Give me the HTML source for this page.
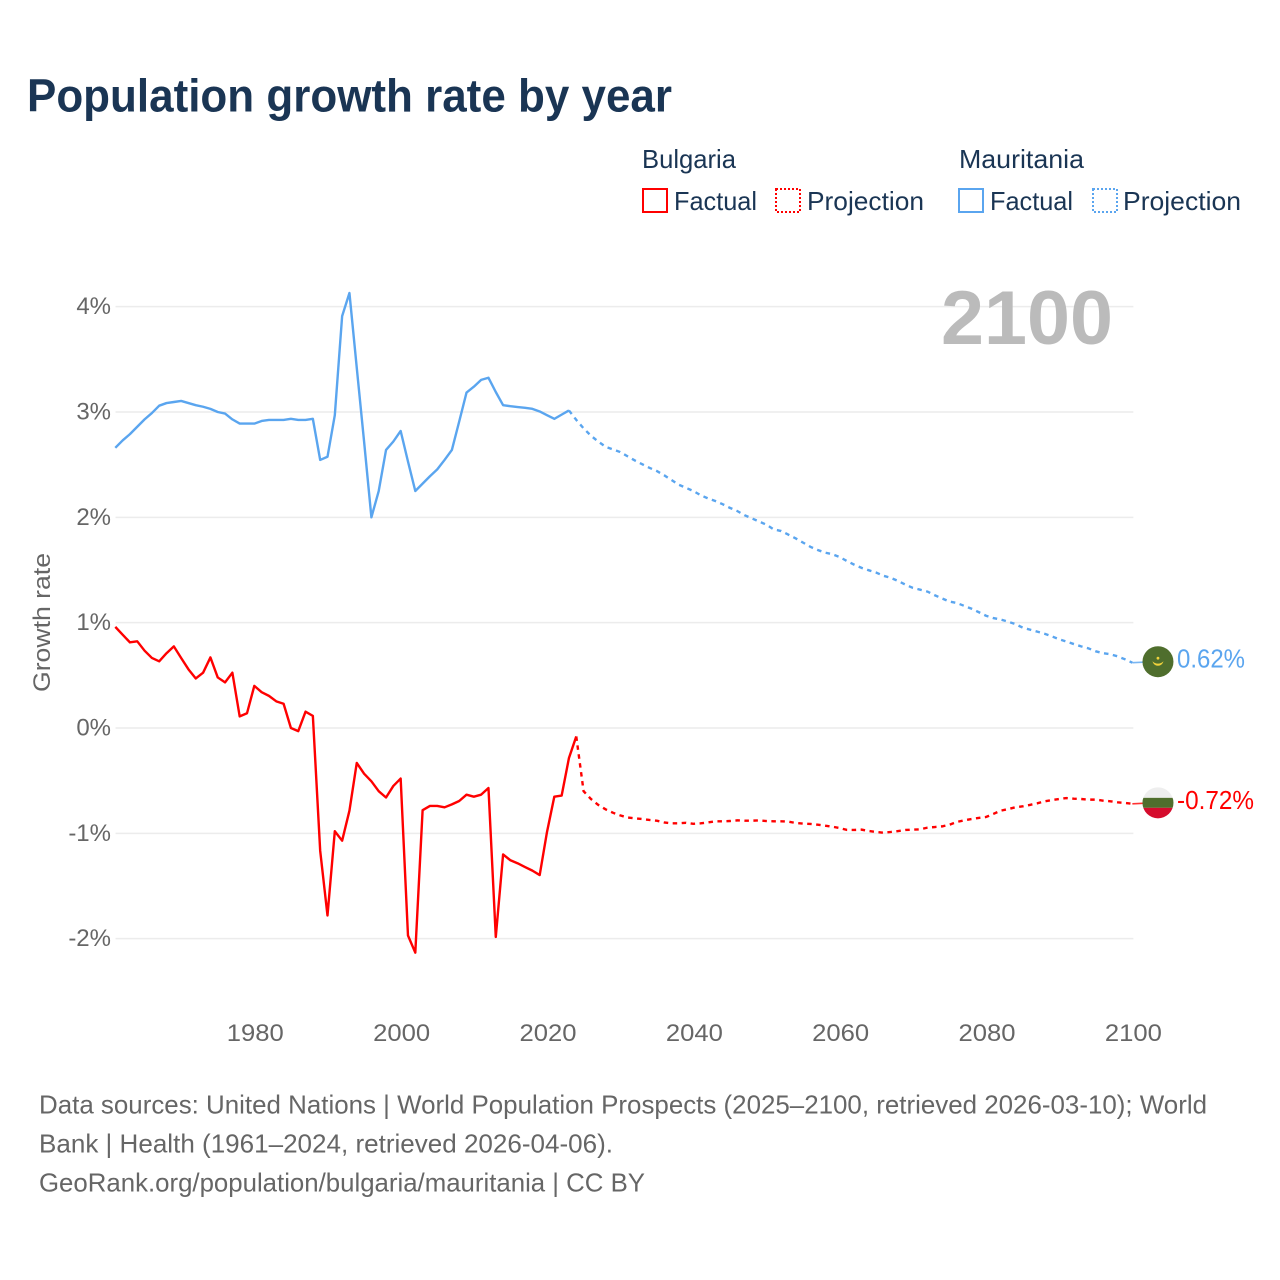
<!DOCTYPE html>
<html lang="en">
<head>
<meta charset="utf-8">
<title>Population growth rate by year</title>
<style>
html,body{margin:0;padding:0;background:#fff;}
svg{display:block;font-family:"Liberation Sans",sans-serif;}
.title{font-size:46px;font-weight:700;fill:#1a3554;}
.legend{font-size:26px;fill:#1a3554;}
.tick{font-size:24px;fill:#666;}
.source{font-size:26px;fill:#666;}
</style>
</head>
<body>
<svg id="chart" xmlns="http://www.w3.org/2000/svg" width="1280" height="1280" viewBox="0 0 1280 1280">
  <defs>
    <clipPath id="flag-clip-b"><circle cx="0" cy="0" r="15.5"></circle></clipPath>
  </defs>
  <rect x="0" y="0" width="1280" height="1280" fill="#fff"></rect>
  <text class="title" x="27" y="111.5" textLength="645" lengthAdjust="spacingAndGlyphs">Population growth rate by year</text>

  <g>
    <text class="legend" x="642" y="168" textLength="94" lengthAdjust="spacingAndGlyphs">Bulgaria</text>
    <rect x="643" y="189" width="24" height="23" fill="none" stroke="#ff0000" stroke-width="2"></rect>
    <text class="legend" x="674" y="210" textLength="83" lengthAdjust="spacingAndGlyphs">Factual</text>
    <rect x="776" y="189" width="24" height="23" fill="none" stroke="#ff0000" stroke-width="2" stroke-dasharray="2 2"></rect>
    <text class="legend" x="807" y="210" textLength="117" lengthAdjust="spacingAndGlyphs">Projection</text>

    <text class="legend" x="959" y="168" textLength="125" lengthAdjust="spacingAndGlyphs">Mauritania</text>
    <rect x="959" y="189" width="24" height="23" fill="none" stroke="#5aa5ef" stroke-width="2"></rect>
    <text class="legend" x="990" y="210" textLength="83" lengthAdjust="spacingAndGlyphs">Factual</text>
    <rect x="1093" y="189" width="24" height="23" fill="none" stroke="#5aa5ef" stroke-width="2" stroke-dasharray="2 2"></rect>
    <text class="legend" x="1123" y="210" textLength="118" lengthAdjust="spacingAndGlyphs">Projection</text>
  </g>

  <g id="grid"></g>
  <g id="y-axis"></g>
  <g id="x-axis"></g>
  <text class="tick" transform="translate(50 692) rotate(-90)" x="0" y="0" textLength="139" lengthAdjust="spacingAndGlyphs">Growth rate</text>
  <text x="941" y="344" font-size="76" font-weight="700" fill="#bbbbbb" textLength="172" lengthAdjust="spacingAndGlyphs">2100</text>
  <g id="series"></g>
  <g id="ends"></g>

  <g>
    <text class="source" x="39" y="1113.5" textLength="1168" lengthAdjust="spacingAndGlyphs">Data sources: United Nations | World Population Prospects (2025–2100, retrieved 2026-03-10); World</text>
    <text class="source" x="39" y="1152.5" textLength="574" lengthAdjust="spacingAndGlyphs">Bank | Health (1961–2024, retrieved 2026-04-06).</text>
    <text class="source" x="39" y="1191.5" textLength="606" lengthAdjust="spacingAndGlyphs">GeoRank.org/population/bulgaria/mauritania | CC BY</text>
  </g>
</svg>

<script>
const factualStartYear = 1961;
const projectionStartYear = 2024;
const yTicks = [4, 3, 2, 1, 0, -1, -2];
const xTicks = [1980, 2000, 2020, 2040, 2060, 2080, 2100];

const bulgariaFactual = [0.96,0.886,0.813,0.823,0.734,0.665,0.633,0.71,0.775,0.665,0.557,0.47,0.525,0.67,0.48,0.433,0.525,0.11,0.14,0.40,0.34,0.305,0.253,0.23,0.0,-0.03,0.155,0.115,-1.165,-1.78,-0.98,-1.07,-0.785,-0.332,-0.434,-0.506,-0.60,-0.66,-0.55,-0.48,-1.97,-2.133,-0.78,-0.74,-0.74,-0.753,-0.725,-0.693,-0.633,-0.652,-0.633,-0.57,-1.984,-1.2,-1.256,-1.285,-1.32,-1.354,-1.396,-0.987,-0.652,-0.642,-0.285,-0.08];

const bulgariaProjection = [-0.08,-0.60,-0.674,-0.73,-0.772,-0.804,-0.83,-0.85,-0.858,-0.864,-0.873,-0.88,-0.896,-0.905,-0.905,-0.9,-0.91,-0.905,-0.896,-0.886,-0.886,-0.883,-0.877,-0.88,-0.88,-0.877,-0.883,-0.886,-0.886,-0.889,-0.902,-0.908,-0.911,-0.918,-0.927,-0.937,-0.95,-0.968,-0.968,-0.965,-0.978,-0.987,-0.994,-0.987,-0.978,-0.968,-0.965,-0.962,-0.946,-0.94,-0.934,-0.918,-0.892,-0.877,-0.864,-0.854,-0.845,-0.816,-0.785,-0.77,-0.753,-0.744,-0.73,-0.715,-0.696,-0.684,-0.674,-0.665,-0.671,-0.674,-0.68,-0.68,-0.69,-0.696,-0.706,-0.712,-0.72];

const mauritaniaFactual = [2.66,2.73,2.79,2.86,2.93,2.99,3.06,3.085,3.095,3.105,3.085,3.065,3.05,3.03,3.0,2.985,2.93,2.89,2.89,2.89,2.915,2.925,2.925,2.925,2.935,2.925,2.925,2.935,2.545,2.575,2.97,3.91,4.13,3.42,2.72,2.0,2.25,2.64,2.72,2.82,2.53,2.25,2.32,2.39,2.455,2.545,2.64,2.91,3.185,3.24,3.305,3.325,3.19,3.065,3.055,3.047,3.04,3.03,3.005,2.97,2.935,2.975,3.015];

const mauritaniaProjection = [3.015,2.925,2.845,2.775,2.72,2.67,2.645,2.62,2.58,2.54,2.505,2.47,2.44,2.40,2.355,2.31,2.28,2.25,2.21,2.18,2.155,2.125,2.09,2.06,2.02,1.99,1.96,1.93,1.885,1.87,1.835,1.80,1.76,1.72,1.69,1.665,1.65,1.623,1.585,1.55,1.52,1.497,1.475,1.445,1.425,1.395,1.36,1.33,1.313,1.295,1.26,1.23,1.2,1.187,1.16,1.133,1.10,1.066,1.044,1.03,1.01,0.987,0.953,0.934,0.915,0.895,0.87,0.842,0.82,0.797,0.775,0.756,0.728,0.71,0.70,0.68,0.652,0.62];

const RED = '#ff0000';
const BLUE = '#5aa5ef';
const NS = 'http://www.w3.org/2000/svg';
const xScale = function (year) { return 115.3 + (year - 1961) * 7.317; };
const yScale = function (value) { return 728 - value * 105.33; };

function make(tag, parent, props, text) {
  const el = document.createElementNS(NS, tag);
  Object.keys(props).forEach(function (k) { el.setAttribute(k, props[k]); });
  if (text !== undefined) { el.textContent = text; }
  parent.appendChild(el);
  return el;
}

const grid = document.getElementById('grid');
const yAxis = document.getElementById('y-axis');
const xAxis = document.getElementById('x-axis');
const series = document.getElementById('series');
const ends = document.getElementById('ends');

yTicks.forEach(function (t) {
  const line = make('line', grid, {x1: 115.5, x2: xScale(2100) + 1, y1: yScale(t), y2: yScale(t), stroke: '#ececec', 'stroke-width': 1.5});
  
  
  const label = make('text', yAxis, {x: 111, y: yScale(t) + 7.5, 'text-anchor': 'end', class: 'tick'}, t + '%');
  
  
});

xTicks.forEach(function (t) {
  const label = make('text', xAxis, {x: xScale(t) - 27.5, y: 1041, class: 'tick', textLength: 57, lengthAdjust: 'spacingAndGlyphs'}, String(t));
  
  
});

function pathFrom(values, startYear) {
  return values.map(function (v, i) {
    return (i ? 'L' : 'M') + xScale(startYear + i).toFixed(2) + ' ' + yScale(v).toFixed(2);
  }).join(' ');
}

const lineMauritaniaProjection = make('path', series, {d: pathFrom(mauritaniaProjection, 2023), fill: 'none', stroke: BLUE, 'stroke-width': 2.4, 'stroke-dasharray': '4.5 4.5'});



const lineMauritaniaFactual = make('path', series, {d: pathFrom(mauritaniaFactual, factualStartYear), fill: 'none', stroke: BLUE, 'stroke-width': 2.4, 'stroke-linejoin': 'round'});



const lineBulgariaProjection = make('path', series, {d: pathFrom(bulgariaProjection, projectionStartYear), fill: 'none', stroke: RED, 'stroke-width': 2.4, 'stroke-dasharray': '4.5 4.5'});



const lineBulgariaFactual = make('path', series, {d: pathFrom(bulgariaFactual, factualStartYear), fill: 'none', stroke: RED, 'stroke-width': 2.4, 'stroke-linejoin': 'round'});



const lastMauritania = mauritaniaProjection[mauritaniaProjection.length - 1];
const lastBulgaria = bulgariaProjection[bulgariaProjection.length - 1];
const flagX = xScale(2100) + 25.6;

const connectorM = make('line', ends, {x1: xScale(2100), x2: flagX - 15, y1: yScale(lastMauritania), y2: yScale(lastMauritania) - 0.5, stroke: BLUE, 'stroke-width': 1.6, opacity: 0.8});



const connectorB = make('line', ends, {x1: xScale(2100), x2: flagX - 15, y1: yScale(lastBulgaria), y2: yScale(lastBulgaria) - 0.5, stroke: RED, 'stroke-width': 1.6, opacity: 0.8});



const flagM = make('g', ends, {transform: 'translate(' + flagX + ' ' + (yScale(lastMauritania) - 1) + ')'});


make('circle', flagM, {cx: 0, cy: 0, r: 15.5, fill: '#4f6e2d'});
make('path', flagM, {d: 'M-5.5 -0.5 A5.6 5.6 0 0 0 5.5 -0.5 A7.5 7.5 0 0 1 -5.5 -0.5 Z', fill: '#f0d23c'});
make('circle', flagM, {cx: 0, cy: -3.5, r: 1.4, fill: '#f0d23c'});

const flagB = make('g', ends, {transform: 'translate(' + flagX + ' ' + (yScale(lastBulgaria) - 1) + ')'});


const flagBands = make('g', flagB, {'clip-path': 'url(#flag-clip-b)'});
make('rect', flagBands, {x: -16, y: -16, width: 32, height: 11, fill: '#eeeeee'});
make('rect', flagBands, {x: -16, y: -5, width: 32, height: 10, fill: '#4f6e2d'});
make('rect', flagBands, {x: -16, y: 5, width: 32, height: 11, fill: '#d50c2d'});

const labelM = make('text', ends, {x: 1177, y: yScale(lastMauritania) + 5, 'font-size': 26, fill: BLUE, textLength: 68, lengthAdjust: 'spacingAndGlyphs'}, lastMauritania.toFixed(2) + '%');



const labelB = make('text', ends, {x: 1177, y: yScale(lastBulgaria) + 5, 'font-size': 26, fill: RED, textLength: 77, lengthAdjust: 'spacingAndGlyphs'}, lastBulgaria.toFixed(2) + '%');


</script>
</body>
</html>
